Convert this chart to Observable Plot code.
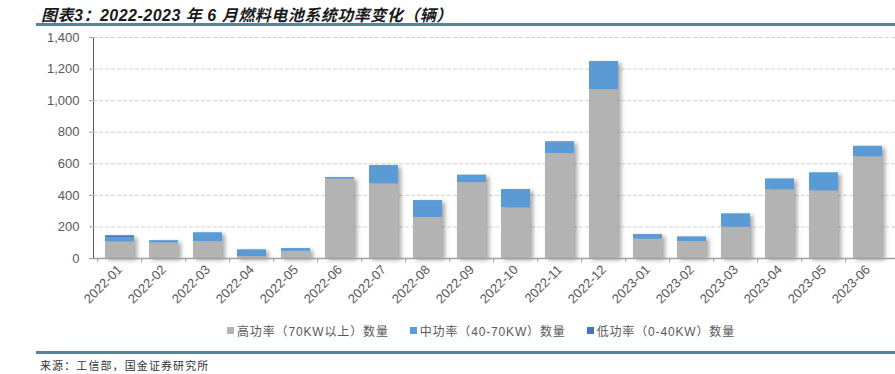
<!DOCTYPE html>
<html>
<head>
<meta charset="utf-8">
<script src="https://cdn.jsdelivr.net/npm/d3@7"></script>
<script src="https://cdn.jsdelivr.net/npm/@observablehq/plot@0.6"></script>
<style>
  html, body { margin: 0; padding: 0; background: #fff; }
  #wrap { position: relative; width: 895px; height: 374px; overflow: hidden; background: #fff;
          font-family: "Liberation Sans", Arial, "Noto Sans CJK SC", sans-serif; }
  #title { position: absolute; left: 41px; top: 2px; font-size: 16px; font-weight: bold; font-style: italic;
           color: #1a1a1a; white-space: nowrap; letter-spacing: 0.5px;
           font-family: "Liberation Sans", "Noto Sans CJK SC", sans-serif; }
  .rule { position: absolute; left: 36px; right: 0; height: 3px; background: #53849b; }
  #chart { position: absolute; left: 0; top: 26px; }
  #legend { position: absolute; left: 227px; top: 322px; display: flex; align-items: center; font-size: 12px;
            color: #595959; white-space: nowrap; letter-spacing: 0.85px;
            font-family: "Liberation Sans", "Noto Sans CJK SC", sans-serif; }
  #legend .item { display: flex; align-items: center; margin-right: 21px; }
  #legend .sw { width: 7px; height: 7px; margin-right: 3px; }
  #caption { position: absolute; left: 40px; top: 357px; font-size: 11px; color: #333; letter-spacing: 1.1px;
             white-space: nowrap; font-family: "Noto Sans CJK SC", sans-serif; }
</style>
</head>
<body>
<div id="wrap">
  <div id="title">图表3：2022-2023 年 6 月燃料电池系统功率变化（辆）</div>
  <div class="rule" style="top:23px"></div>
  <div id="chart"></div>
  <div id="legend"></div>
  <div class="rule" style="top:351px"></div>
  <div id="caption">来源：工信部，国金证券研究所</div>
</div>
<script>
const months = ["2022-01","2022-02","2022-03","2022-04","2022-05","2022-06","2022-07","2022-08","2022-09",
                "2022-10","2022-11","2022-12","2023-01","2023-02","2023-03","2023-04","2023-05","2023-06"];
const seriesNames = ["高功率（70KW以上）数量", "中功率（40-70KW）数量", "低功率（0-40KW）数量"];
const seriesColors = ["#b3b3b3", "#5b9bd5", "#4472c4"];
const highPower = [105, 98, 107, 12, 45, 502, 473, 260, 481, 321, 665, 1070, 122, 107, 198, 435, 428, 644];
const midPower  = [27, 15, 56, 43, 18, 11, 116, 107, 47, 116, 68, 178, 30, 30, 85, 69, 115, 67];
const lowPower  = [12, 0, 0, 0, 0, 0, 0, 0, 0, 0, 6, 0, 0, 0, 0, 0, 0, 0];
const yTicks = [0, 200, 400, 600, 800, 1000, 1200, 1400];

const seriesValues = [highPower, midPower, lowPower];
const data = [];
seriesNames.forEach((s, si) => months.forEach((m, i) => data.push({month: m, series: s, value: seriesValues[si][i]})));

const W = 895, ML = 93, MR = 0;
const step = (W - ML - MR) / months.length;

const chart = Plot.plot({
  width: W, height: 290,
  marginLeft: ML, marginRight: MR, marginTop: 11, marginBottom: 58,
  style: {fontFamily: '"Liberation Sans", Arial, sans-serif', fontSize: "13px", color: "#595959", background: "transparent"},
  x: {domain: months, paddingInner: 0.33, paddingOuter: 0.165, label: null, tickSize: 0, tickPadding: 9, tickRotate: -45},
  y: {domain: [0, 1400], ticks: yTicks, tickFormat: d3.format(","), label: null, tickSize: 4, tickPadding: 10, line: true},
  color: {domain: seriesNames, range: seriesColors},
  marks: [
    Plot.ruleY(yTicks.filter(d => d > 0), {stroke: "#d0d0d0", strokeDasharray: "4,2"}),
    Plot.barY(data, Plot.stackY({x: "month", y: "value", fill: "series"})),
    Plot.ruleY([0], {stroke: "#a0a0a0", strokeWidth: 1.5}),
    Plot.ruleX(months, {x: d => d, dx: -step / 2, y1: 0, y2: -26, stroke: "#a0a0a0"})
  ]
});
document.getElementById("chart").appendChild(chart);

// shadow on bars
d3.select(chart).selectAll('g[aria-label="bar"]').style("filter", "drop-shadow(3px 2px 2px rgba(0,0,0,0.35))");
// axis line colour
d3.select(chart).selectAll('g[aria-label="y-axis"] path, g[aria-label="y-axis tick"] path').attr("stroke", "#a0a0a0");
d3.select(chart).selectAll('g[aria-label="y-axis"] line').attr("stroke", "#a0a0a0");

const legend = d3.select("#legend");
seriesNames.forEach((s, i) => {
  const it = legend.append("div").attr("class", "item");
  it.append("div").attr("class", "sw").style("background", seriesColors[i]);
  it.append("span").text(s);
});
</script>
</body>
</html>
